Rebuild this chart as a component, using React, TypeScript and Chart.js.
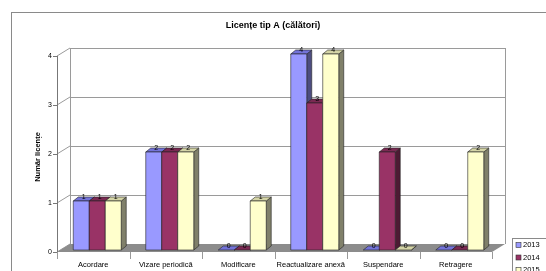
import React, { useEffect, useRef } from 'react';
import { Chart, registerables } from 'chart.js';

Chart.register(...registerables);

const chartTitle = 'Licențe tip A (călători)';
const yAxisTitle = 'Număr licențe';
const categories = ['Acordare', 'Vizare periodică', 'Modificare', 'Reactualizare anexă', 'Suspendare', 'Retragere'];
const seriesNames = ['2013', '2014', '2015'];
const values2013 = [1, 2, 0, 4, 0, 0];
const values2014 = [1, 2, 0, 3, 2, 0];
const values2015 = [1, 2, 1, 4, 0, 2];
const yTickValues = [0, 1, 2, 3, 4];

const frontColors = ['#9999ff', '#993366', '#ffffcc'];
const topColors = ['#7373d9', '#7a2952', '#d4d4a6'];
const sideColors = ['#4d4d80', '#4d1a33', '#80806a'];

const FONT = '"Liberation Sans", Arial, sans-serif';
// 3D offsets (relative to the bar plane given by the scales)
const FRONT = { dx: -4, dy: 2 };
const BACK = { dx: 9, dy: -6 };
const DEPTH = { dx: 5, dy: -4 };

const poly = (ctx: CanvasRenderingContext2D, pts: number[][], fill: string, stroke?: string) => {
  ctx.beginPath();
  ctx.moveTo(pts[0][0], pts[0][1]);
  for (let i = 1; i < pts.length; i++) ctx.lineTo(pts[i][0], pts[i][1]);
  ctx.closePath();
  ctx.fillStyle = fill;
  ctx.fill();
  if (stroke) {
    ctx.strokeStyle = stroke;
    ctx.lineWidth = 0.6;
    ctx.stroke();
  }
};

const line = (ctx: CanvasRenderingContext2D, x1: number, y1: number, x2: number, y2: number, color: string, w = 1) => {
  ctx.beginPath();
  ctx.moveTo(x1, y1);
  ctx.lineTo(x2, y2);
  ctx.strokeStyle = color;
  ctx.lineWidth = w;
  ctx.stroke();
};

const threeDPlugin = {
  id: 'threeD',
  beforeDatasetsDraw(chart: any) {
    const { ctx, chartArea, scales } = chart;
    const y = scales.y;
    const x = scales.x;
    ctx.save();
    // outer frame
    ctx.strokeStyle = '#8a8a8a';
    ctx.lineWidth = 1;
    ctx.strokeRect(11.5, 12.5, 600, 400);

    const fl = chartArea.left + FRONT.dx;
    const fr = chartArea.right + FRONT.dx;
    const bl = chartArea.left + BACK.dx;
    const br = chartArea.right + BACK.dx;
    const y0 = y.getPixelForValue(0);
    const yTop = y.getPixelForValue(yTickValues[yTickValues.length - 1]);

    // back wall gridlines + left wall diagonals
    yTickValues.forEach((v) => {
      const py = y.getPixelForValue(v);
      if (v > 0) {
        line(ctx, bl, Math.round(py + BACK.dy) + 0.5, br, Math.round(py + BACK.dy) + 0.5, '#9a9a9a');
      }
      line(ctx, fl, py + FRONT.dy, bl, py + BACK.dy, '#9a9a9a');
    });
    // back wall verticals
    line(ctx, bl + 0.5, yTop + BACK.dy, bl + 0.5, y0 + BACK.dy, '#9a9a9a');
    line(ctx, br + 0.5, yTop + BACK.dy, br + 0.5, y0 + BACK.dy, '#9a9a9a');

    // floor
    poly(ctx, [
      [fl, y0 + FRONT.dy],
      [fr, y0 + FRONT.dy],
      [br, y0 + BACK.dy],
      [bl, y0 + BACK.dy],
    ], '#8c8c8c');

    // y axis line + tick marks
    line(ctx, fl + 0.5, yTop + FRONT.dy, fl + 0.5, y0 + FRONT.dy, '#777');
    yTickValues.forEach((v) => {
      const py = Math.round(y.getPixelForValue(v) + FRONT.dy) + 0.5;
      line(ctx, fl - 4, py, fl, py, '#777');
    });

    // category separators
    const n = categories.length;
    const step = (chartArea.right - chartArea.left) / n;
    for (let i = 0; i <= n; i++) {
      const cx = Math.round(x.getPixelForValue(0) - step / 2 + i * step + FRONT.dx) + 0.5;
      line(ctx, cx, y0 + FRONT.dy, cx, y0 + FRONT.dy + 7, '#999');
    }
    ctx.restore();
  },
  afterDatasetsDraw(chart: any) {
    const { ctx } = chart;
    ctx.save();
    const nDs = chart.data.datasets.length;
    for (let j = 0; j < categories.length; j++) {
      for (let i = 0; i < nDs; i++) {
        const el = chart.getDatasetMeta(i).data[j];
        const p = el.getProps(['x', 'y', 'base', 'width'], true);
        const l = p.x - p.width / 2;
        const r = p.x + p.width / 2;
        const t = p.y;
        const b = p.base;
        // side
        poly(ctx, [[r, t], [r + DEPTH.dx, t + DEPTH.dy], [r + DEPTH.dx, b + DEPTH.dy], [r, b]], sideColors[i], '#222');
        // top
        poly(ctx, [[l, t], [l + DEPTH.dx, t + DEPTH.dy], [r + DEPTH.dx, t + DEPTH.dy], [r, t]], topColors[i], '#222');
        // front
        if (b - t > 0.5) {
          poly(ctx, [[l, t], [r, t], [r, b], [l, b]], frontColors[i], '#222');
        }
      }
    }
    // data labels
    ctx.fillStyle = '#000';
    ctx.font = `7px ${FONT}`;
    ctx.textAlign = 'center';
    ctx.textBaseline = 'middle';
    for (let i = 0; i < nDs; i++) {
      const ds = chart.data.datasets[i];
      chart.getDatasetMeta(i).data.forEach((el: any, j: number) => {
        const p = el.getProps(['x', 'y'], true);
        ctx.fillText(String(ds.data[j]), p.x + DEPTH.dx / 2, p.y - 4);
      });
    }
    ctx.restore();
  },
  afterDraw(chart: any) {
    const { ctx } = chart;
    ctx.save();
    // title
    ctx.fillStyle = '#000';
    ctx.font = `bold 9px ${FONT}`;
    ctx.textAlign = 'center';
    ctx.textBaseline = 'middle';
    ctx.fillText(chartTitle, 273, 26);
    // y axis title
    ctx.save();
    ctx.translate(38, 157);
    ctx.rotate(-Math.PI / 2);
    ctx.font = `bold 7.5px ${FONT}`;
    ctx.fillText(yAxisTitle, 0, 0);
    ctx.restore();
    // legend
    ctx.fillStyle = '#fff';
    ctx.fillRect(512, 238, 60, 60);
    ctx.strokeStyle = '#8a8a8a';
    ctx.lineWidth = 1;
    ctx.strokeRect(512.5, 238.5, 60, 60);
    ctx.font = `7.5px ${FONT}`;
    ctx.textAlign = 'left';
    seriesNames.forEach((name, i) => {
      const cy = 245 + i * 12.5;
      ctx.fillStyle = frontColors[i];
      ctx.fillRect(516, cy - 2.5, 5, 5);
      ctx.strokeStyle = '#333';
      ctx.lineWidth = 0.6;
      ctx.strokeRect(516, cy - 2.5, 5, 5);
      ctx.fillStyle = '#000';
      ctx.fillText(name, 523, cy);
    });
    ctx.restore();
  },
};

export default function App() {
  const canvasRef = useRef<HTMLCanvasElement | null>(null);
  useEffect(() => {
    if (!canvasRef.current) return;
    const chart = new Chart(canvasRef.current, {
      type: 'bar',
      data: {
        labels: categories,
        datasets: [values2013, values2014, values2015].map((vals, i) => ({
          label: seriesNames[i],
          data: vals,
          backgroundColor: 'rgba(0,0,0,0)',
          borderWidth: 0,
          categoryPercentage: 0.662,
          barPercentage: 1,
        })),
      },
      options: {
        responsive: false,
        animation: false,
        layout: { padding: { left: 11, top: 54, right: 50, bottom: 0 } },
        plugins: {
          legend: { display: false },
          title: { display: false },
          tooltip: { enabled: false },
        },
        scales: {
          x: {
            grid: { display: false, drawTicks: false },
            border: { display: false },
            ticks: {
              font: { family: FONT, size: 7.5 },
              color: '#000',
              padding: 10,
              labelOffset: -4,
              maxRotation: 0,
              autoSkip: false,
            },
            afterFit: (scale: any) => {
              scale.height = 21;
            },
          },
          y: {
            min: 0,
            max: 4,
            grid: { display: false, drawTicks: false },
            border: { display: false },
            ticks: {
              stepSize: 1,
              font: { family: FONT, size: 7 },
              color: '#000',
              padding: 9,
              labelOffset: 2,
            },
            afterFit: (scale: any) => {
              scale.width = 50;
            },
          },
        },
      },
      plugins: [threeDPlugin],
    });
    return () => chart.destroy();
  }, []);
  return (
    <div style={{ position: 'fixed', left: 0, top: 0, width: 546, height: 271, background: '#fff' }}>
      <canvas ref={canvasRef} width={546} height={271} style={{ width: 546, height: 271, display: 'block' }} />
    </div>
  );
}
